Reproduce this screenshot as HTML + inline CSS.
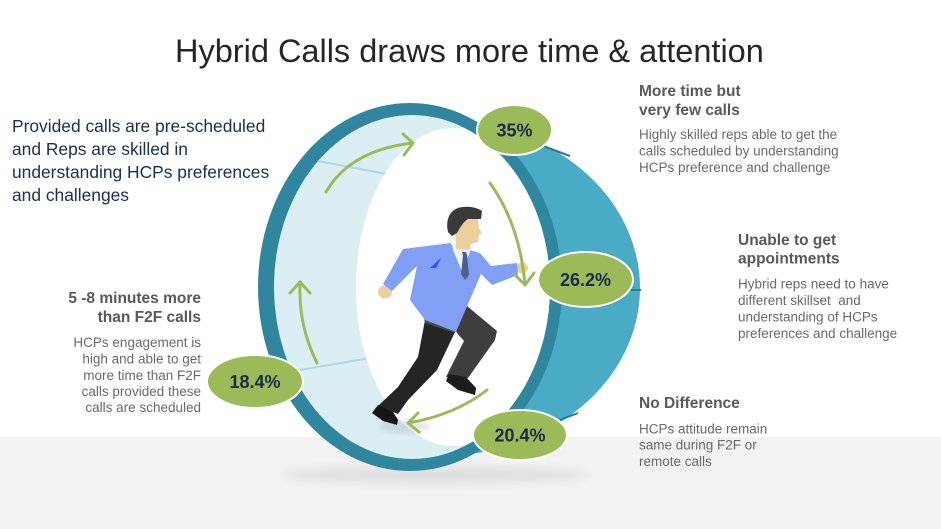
<!DOCTYPE html>
<html><head><meta charset="utf-8"><style>
html,body{margin:0;padding:0;background:#fff;}
svg{display:block;}
text{font-family:"Liberation Sans",Arial,sans-serif;}
</style></head><body>
<svg width="941" height="529" viewBox="0 0 941 529" xmlns="http://www.w3.org/2000/svg">
<defs>
<filter id="blur" x="-20%" y="-200%" width="140%" height="500%"><feGaussianBlur stdDeviation="5"/></filter>
<filter id="blur2" x="-50%" y="-200%" width="200%" height="500%"><feGaussianBlur stdDeviation="3"/></filter>
<clipPath id="lbclip"><ellipse cx="412" cy="287" rx="138" ry="172"/></clipPath>
<clipPath id="drumclip"><rect x="410" y="0" width="400" height="529"/></clipPath>
</defs>
<rect x="0" y="0" width="941" height="529" fill="#ffffff"/>
<rect x="0" y="437" width="941" height="92" fill="#f2f2f2"/>
<ellipse cx="435" cy="475" rx="155" ry="8" fill="#000" opacity="0.08" filter="url(#blur)"/>

<!-- Title -->
<text x="175" y="62" font-size="32.5" fill="#262626">Hybrid Calls draws more time &amp; attention</text>

<!-- Drum -->
<g clip-path="url(#drumclip)"><ellipse cx="440" cy="288" rx="200" ry="168" fill="#4aabc6"/></g>
<line x1="543" y1="146" x2="570" y2="156" stroke="#2a7b94" stroke-width="2"/>
<line x1="630" y1="290" x2="641" y2="290" stroke="#2a7b94" stroke-width="2"/>
<line x1="560" y1="420" x2="578" y2="413" stroke="#2a7b94" stroke-width="2"/>
<!-- Front ring -->
<ellipse cx="410" cy="287" rx="152" ry="184" fill="#2f869e"/>
<ellipse cx="412" cy="287" rx="138" ry="172" fill="#dbeef4"/>
<line x1="318" y1="161" x2="397" y2="176" stroke="#acd8e8" stroke-width="2"/>
<line x1="300" y1="370" x2="370" y2="358" stroke="#acd8e8" stroke-width="2"/>
<g clip-path="url(#lbclip)"><ellipse cx="453" cy="287" rx="97" ry="159" fill="#ffffff"/></g>

<!-- foot shadow -->
<ellipse cx="405" cy="426" rx="26" ry="7" fill="#000" opacity="0.09" filter="url(#blur2)"/>

<!-- Man -->
<!-- back leg -->
<polygon points="425,320 455,332 437,370 408,400 398,414 378,406 398,387 418,357" fill="#252525"/>
<!-- front leg -->
<polygon points="446,310 467,306 497,331 495,340 468,378 446,377 464,341 457,333" fill="#3e3e3e"/>
<!-- belt/hip shading -->
<polygon points="424,318 456,326 455,333 425,323" fill="#4a4a4a"/>
<!-- shoes -->
<path d="M449,374 L466,377 L476,388 L475,395 L458,390 L446,381 Z" fill="#1c1c1c"/>
<path d="M378,405 L393,412 L398,420 L397,425 L383,421 L372,413 Z" fill="#151515"/>
<!-- hands -->
<ellipse cx="385" cy="292" rx="7" ry="6.5" fill="#ebd09d"/>
<ellipse cx="522" cy="268" rx="6" ry="5.5" fill="#ebd09d"/>
<!-- jacket -->
<path d="M403,249 L451,243 L462,272 L470,250 L480,253 L491,266 L517,263 L518,275 L492,285 L481,274 L456,332 L425,320 L410,300 L417,266 L392,291 L383,284 Z" fill="#809ff5"/>
<polygon points="430,268 441,258 436,268" fill="#2f52f0"/>
<!-- collar -->
<polygon points="452,244 470,248 470,252 462,271 453,250" fill="#f2f2f2"/>
<!-- tie -->
<polygon points="462,252 466,252 467,255 469,275 465,280 461,274 463,255" fill="#4a6090"/>
<!-- face -->
<path d="M455,222 L478,218 L479,228 L482,233 L479,235 L478,242 L471,244 L470,250 L456,249 Z" fill="#ebd09d"/>
<!-- hair -->
<path d="M448,232 C445,218 451,208 463,207 C471,206 478,208 482,211 L481,219 L468,219 C463,222 460,228 457,233 L452,236 Z" fill="#3a3a3a"/>

<!-- Arrows -->
<g fill="none" stroke="#9bbb59" stroke-width="3" stroke-linecap="round" stroke-linejoin="round">
<path d="M326,192 Q350,150 413,143"/>
<path d="M403,134 L413,143 L404,155"/>
<path d="M490,183 Q520,225 525,285"/>
<path d="M514,274 L525,285 L534,273"/>
<path d="M487,390 Q455,415 408,423"/>
<path d="M418,413 L408,423 L419,432"/>
<path d="M317,363 Q298,325 300,282"/>
<path d="M290,293 L300,282 L310,293"/>
</g>

<!-- Bubbles -->
<g stroke="#ffffff" stroke-width="2" fill="#9bbb59">
<ellipse cx="514.5" cy="130" rx="37.5" ry="25"/>
<ellipse cx="585.5" cy="279.5" rx="47.5" ry="27.5"/>
<ellipse cx="520" cy="435" rx="47" ry="25"/>
<ellipse cx="255" cy="381.5" rx="48" ry="26.5"/>
</g>
<g font-size="18" font-weight="bold" fill="#1c2a48" text-anchor="middle">
<text x="514.5" y="136.5">35%</text>
<text x="585.5" y="286">26.2%</text>
<text x="520" y="441.5">20.4%</text>
<text x="255" y="388">18.4%</text>
</g>

<!-- Left navy text -->
<g font-size="17.4" fill="#1b2f50">
<text x="12" y="132">Provided calls are pre-scheduled</text>
<text x="12" y="155">and Reps are skilled in</text>
<text x="12" y="178">understanding HCPs preferences</text>
<text x="12" y="201">and challenges</text>
</g>

<!-- Left gray block -->
<g font-size="15.5" font-weight="bold" fill="#595959" text-anchor="end">
<text x="201" y="303">5 -8 minutes more</text>
<text x="201" y="322">than F2F calls</text>
</g>
<g font-size="13.5" fill="#6a6a6a" text-anchor="end">
<text x="201" y="347">HCPs engagement is</text>
<text x="201" y="363.5">high and able to get</text>
<text x="201" y="380">more time than F2F</text>
<text x="201" y="396">calls provided these</text>
<text x="201" y="412">calls are scheduled</text>
</g>

<!-- Right blocks -->
<g font-size="15.5" font-weight="bold" fill="#595959">
<text x="639" y="96">More time but</text>
<text x="639" y="115">very few calls</text>
<text x="738" y="245">Unable to get</text>
<text x="738" y="263.5">appointments</text>
<text x="639" y="408">No Difference</text>
</g>
<g font-size="13.5" fill="#6a6a6a">
<text x="639" y="139">Highly skilled reps able to get the</text>
<text x="639" y="155.5">calls scheduled by understanding</text>
<text x="639" y="172">HCPs preference and challenge</text>
<text x="738" y="288.5">Hybrid reps need to have</text>
<text x="738" y="305" xml:space="preserve">different skillset  and</text>
<text x="738" y="321.5">understanding of HCPs</text>
<text x="738" y="338">preferences and challenge</text>
<text x="639" y="433.5">HCPs attitude remain</text>
<text x="639" y="449.5">same during F2F or</text>
<text x="639" y="466">remote calls</text>
</g>
</svg>
</body></html>
